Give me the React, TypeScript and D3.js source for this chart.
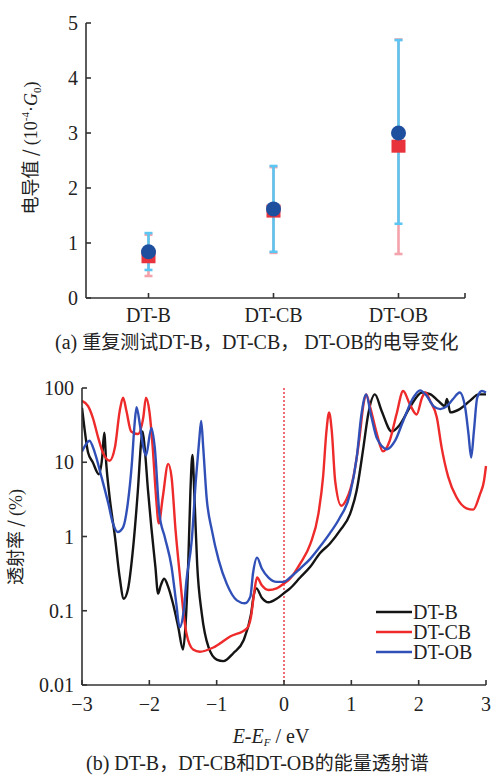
import React from 'react';
import * as d3 from 'd3';

// (a) repeated conductance measurements
const categories = ['DT-B', 'DT-CB', 'DT-OB'];
const blueMean = [0.84, 1.62, 3.0];
const blueLow = [0.51, 0.84, 1.35];
const blueHigh = [1.18, 2.4, 4.69];
const redMean = [0.75, 1.58, 2.76];
const redLow = [0.4, 0.82, 0.8];
const redHigh = [1.15, 2.38, 4.7];
const condTicks = [0, 1, 2, 3, 4, 5];

// (b) transmission spectra, energy (eV) and transmission (%)
const dtbE = [-3.0, -2.97, -2.91, -2.84, -2.75, -2.7, -2.67, -2.64, -2.59, -2.51, -2.44, -2.38, -2.32, -2.24, -2.17, -2.12, -2.1, -2.07, -2.02, -1.97, -1.91, -1.87, -1.83, -1.78, -1.72, -1.65, -1.57, -1.5, -1.46, -1.42, -1.39, -1.36, -1.33, -1.29, -1.22, -1.12, -1.0, -0.9, -0.75, -0.6, -0.49, -0.445, -0.41, -0.33, -0.23, -0.11, -0.01, 0.09, 0.24, 0.39, 0.53, 0.68, 0.83, 0.98, 1.08, 1.18, 1.25, 1.35, 1.45, 1.6, 1.72, 1.87, 2.05, 2.17, 2.29, 2.39, 2.42, 2.47, 2.61, 2.76, 2.89, 3.0];
const dtbT = [54, 32, 13.5, 10, 6.9, 11.6, 25, 9.6, 3.4, 0.98, 0.28, 0.145, 0.19, 0.72, 4.2, 19.5, 26, 16, 4.2, 1.33, 0.39, 0.17, 0.22, 0.27, 0.21, 0.126, 0.06, 0.03, 0.07, 0.5, 4, 12.5, 3.4, 0.43, 0.09, 0.032, 0.022, 0.021, 0.027, 0.04, 0.09, 0.17, 0.2, 0.15, 0.13, 0.145, 0.17, 0.2, 0.28, 0.39, 0.59, 0.8, 1.2, 2.0, 4.2, 16, 44, 82, 49, 26, 32, 55, 87, 83, 67, 57, 71, 47, 52, 67, 82, 82];

const dtcbE = [-3.0, -2.91, -2.84, -2.76, -2.69, -2.59, -2.51, -2.44, -2.39, -2.34, -2.27, -2.17, -2.09, -2.05, -2.0, -1.95, -1.9, -1.86, -1.8, -1.72, -1.67, -1.61, -1.55, -1.49, -1.45, -1.35, -1.25, -1.05, -0.8, -0.55, -0.49, -0.445, -0.4, -0.33, -0.23, -0.11, -0.01, 0.09, 0.24, 0.39, 0.51, 0.58, 0.63, 0.67, 0.71, 0.76, 0.85, 0.93, 1.03, 1.12, 1.18, 1.22, 1.28, 1.38, 1.47, 1.57, 1.67, 1.77, 1.87, 1.97, 2.05, 2.1, 2.17, 2.27, 2.34, 2.44, 2.56, 2.71, 2.81, 2.91, 2.97, 3.0];
const dtcbT = [67, 57, 40, 21.5, 13.5, 10.5, 16, 49, 74, 49, 26, 24, 40, 74, 49, 16, 3.4, 1.5, 3.4, 9.5, 6.3, 1.2, 0.32, 0.09, 0.05, 0.03, 0.028, 0.032, 0.045, 0.058, 0.083, 0.17, 0.28, 0.22, 0.19, 0.2, 0.23, 0.27, 0.43, 0.79, 2.0, 6.3, 26, 47, 26, 5.6, 2.6, 3.2, 6.3, 21, 60, 82, 55, 24, 14, 19.5, 44, 91, 60, 44, 74, 87, 67, 40, 16, 6.3, 3.4, 2.4, 2.3, 3.7, 5.6, 8.9];

const dtobE = [-3.0, -2.94, -2.89, -2.81, -2.71, -2.61, -2.54, -2.47, -2.39, -2.32, -2.26, -2.22, -2.19, -2.14, -2.09, -2.05, -1.97, -1.92, -1.85, -1.77, -1.67, -1.6, -1.55, -1.49, -1.45, -1.37, -1.31, -1.26, -1.23, -1.2, -1.15, -1.07, -0.97, -0.85, -0.7, -0.58, -0.5, -0.46, -0.4, -0.33, -0.23, -0.11, -0.01, 0.09, 0.24, 0.39, 0.53, 0.68, 0.83, 0.98, 1.08, 1.15, 1.22, 1.29, 1.38, 1.53, 1.65, 1.77, 1.92, 2.02, 2.12, 2.22, 2.32, 2.42, 2.51, 2.61, 2.69, 2.74, 2.78, 2.82, 2.87, 2.94, 3.0];
const dtobT = [14, 17.5, 19.5, 13.5, 6.3, 2.8, 1.5, 1.15, 1.33, 2.8, 9.5, 32, 55, 32, 16, 12.3, 29, 16, 2.0, 0.98, 0.39, 0.126, 0.06, 0.1, 0.25, 0.89, 5.6, 19.5, 36, 16, 3.4, 1.2, 0.48, 0.23, 0.138, 0.126, 0.155, 0.32, 0.52, 0.37, 0.28, 0.245, 0.245, 0.28, 0.37, 0.5, 0.72, 1.1, 1.8, 3.7, 11.6, 44, 82, 44, 21, 15, 19.5, 36, 74, 93, 78, 57, 52, 57, 71, 87, 55, 24, 11.6, 26, 74, 91, 87];

const energyTicks = [-3, -2, -1, 0, 1, 2, 3];
const transTicks = [0.01, 0.1, 1, 10, 100];
const transLabels = ['0.01', '0.1', '1', '10', '100'];

const seriesNames = ['DT-B', 'DT-CB', 'DT-OB'];
const seriesColors = ['#141414', '#ee2a2a', '#3050b8'];

const serif = "'Liberation Serif', Tinos, 'Times New Roman', Times, 'DejaVu Serif', serif";
const cjk = "'Noto Sans CJK SC', sans-serif";
const axisColor = '#333';

export default function App() {
  // top chart scales
  const x1 = d3.scalePoint<string>().domain(categories).range([86, 461]).padding(0.5);
  const y1 = d3.scaleLinear().domain([0, 5]).range([298, 23]);

  // bottom chart scales
  const x2 = d3.scaleLinear().domain([-3, 3]).range([82, 486]);
  const y2 = d3.scaleLog().domain([0.01, 100]).range([685, 388]);

  const line = d3.line<[number, number]>()
    .x(d => x2(d[0]))
    .y(d => y2(d[1]))
    .curve(d3.curveMonotoneX);

  const series = [
    dtbE.map((e, i) => [e, dtbT[i]] as [number, number]),
    dtcbE.map((e, i) => [e, dtcbT[i]] as [number, number]),
    dtobE.map((e, i) => [e, dtobT[i]] as [number, number]),
  ];
  const fmt = d3.format('d');
  const ts = { fontFamily: serif };
  const cs = { fontFamily: cjk, fontSize: 19 };

  const errBar = (c: string, lo: number, hi: number, color: string, key: string) => {
    const cx = x1(c)!;
    return (
      <g key={key} stroke={color} strokeWidth={2.6}>
        <line x1={cx} x2={cx} y1={y1(lo)} y2={y1(hi)} />
        <line x1={cx - 4} x2={cx + 4} y1={y1(lo)} y2={y1(lo)} />
        <line x1={cx - 4} x2={cx + 4} y1={y1(hi)} y2={y1(hi)} />
      </g>
    );
  };

  return (
    <svg width={492} height={775} style={{ position: 'absolute', left: 0, top: 0, background: '#fff' }}>
      {/* ---------- (a) ---------- */}
      <g>
        {categories.map((c, i) => errBar(c, redLow[i], redHigh[i], '#f4a2ab', 'r' + i))}
        {categories.map((c, i) => errBar(c, blueLow[i], blueHigh[i], '#5cc6f2', 'b' + i))}
        {categories.map((c, i) => (
          <rect key={'sq' + i} x={x1(c)! - 7} y={y1(redMean[i]) - 6.5} width={14} height={13} fill="#e8323c" />
        ))}
        {categories.map((c, i) => (
          <circle key={'ci' + i} cx={x1(c)!} cy={y1(blueMean[i])} r={7.5} fill="#1e4f9e" />
        ))}
        {/* axes */}
        <line x1={86} x2={86} y1={y1(5)} y2={y1(0)} stroke={axisColor} strokeWidth={1.6} />
        <line x1={86} x2={465} y1={y1(0)} y2={y1(0)} stroke={axisColor} strokeWidth={1.6} />
        {condTicks.map(t => (
          <g key={'yt' + t}>
            <line x1={86} x2={91} y1={y1(t)} y2={y1(t)} stroke={axisColor} strokeWidth={1.6} />
            <text x={78} y={y1(t)} dy="0.35em" textAnchor="end" fontSize={20} fill="#222" style={ts}>{t}</text>
          </g>
        ))}
        {categories.map(c => (
          <g key={'xt' + c}>
            <line x1={x1(c)!} x2={x1(c)!} y1={y1(0)} y2={y1(0) - 5} stroke={axisColor} strokeWidth={1.6} />
            <text x={x1(c)!} y={315} dy="0.35em" textAnchor="middle" fontSize={20} fill="#222" style={ts}>{c}</text>
          </g>
        ))}
        <line x1={465} x2={465} y1={y1(0)} y2={y1(0) - 5} stroke={axisColor} strokeWidth={1.6} />
        <text transform="translate(37,148) rotate(-90)" textAnchor="middle" fontSize={18} fill="#222" style={ts}>
          <tspan style={{ fontFamily: cjk }}>电导值 / </tspan>
          <tspan>(10</tspan>
          <tspan fontSize={11} dy={-8}>-4</tspan>
          <tspan dy={8}>·</tspan>
          <tspan fontStyle="italic">G</tspan>
          <tspan fontSize={11} dy={4}>0</tspan>
          <tspan dy={-4}>)</tspan>
        </text>
        <text x={55} y={342} dy="0.35em" textAnchor="start" fontSize={20} fill="#222" style={ts}>
          <tspan>(a) </tspan>
          <tspan style={cs}>重复测试</tspan>
          <tspan>DT-B</tspan>
          <tspan style={cs}>，</tspan>
          <tspan>DT-CB</tspan>
          <tspan style={cs}>，</tspan>
          <tspan> DT-OB</tspan>
          <tspan style={cs}>的电导变化</tspan>
        </text>
      </g>

      {/* ---------- (b) ---------- */}
      <defs>
        <clipPath id="plotb">
          <rect x={82} y={386} width={406} height={300} />
        </clipPath>
      </defs>
      <g>
        <line x1={x2(0)} x2={x2(0)} y1={y2(100)} y2={y2(0.01)} stroke="#f06a78" strokeWidth={2}
          strokeDasharray="2,2" />
        <g clipPath="url(#plotb)">
          {series.map((s, i) => (
            <path key={'s' + i} d={line(s)!} fill="none" stroke={seriesColors[i]} strokeWidth={2.4}
              strokeLinejoin="round" />
          ))}
        </g>
        {/* axes */}
        <line x1={82} x2={82} y1={y2(100)} y2={y2(0.01)} stroke={axisColor} strokeWidth={1.6} />
        <line x1={82} x2={486} y1={y2(0.01)} y2={y2(0.01)} stroke={axisColor} strokeWidth={1.6} />
        {transTicks.map((t, i) => (
          <g key={'yt2' + i}>
            <line x1={82} x2={87} y1={y2(t)} y2={y2(t)} stroke={axisColor} strokeWidth={1.6} />
            <text x={74} y={y2(t)} dy="0.35em" textAnchor="end" fontSize={20} fill="#222" style={ts}>{transLabels[i]}</text>
          </g>
        ))}
        {energyTicks.map(t => (
          <g key={'xt2' + t}>
            <line x1={x2(t)} x2={x2(t)} y1={y2(0.01)} y2={y2(0.01) - 5} stroke={axisColor} strokeWidth={1.6} />
            <text x={x2(t)} y={704} dy="0.35em" textAnchor="middle" fontSize={20} fill="#222" style={ts}>
              {t < 0 ? '\u2212' + fmt(-t) : fmt(t)}
            </text>
          </g>
        ))}
        <text transform="translate(22,537) rotate(-90)" textAnchor="middle" fontSize={18} fill="#222" style={ts}>
          <tspan style={{ fontFamily: cjk }}>透射率 / </tspan>
          <tspan>(%)</tspan>
        </text>
        <text x={271} y={735.5} dy="0.35em" textAnchor="middle" fontSize={20} fill="#222" style={ts}>
          <tspan fontStyle="italic">E</tspan>
          <tspan>-</tspan>
          <tspan fontStyle="italic">E</tspan>
          <tspan fontStyle="italic" fontSize={11} dy={3}>F</tspan>
          <tspan dy={-3}> / eV</tspan>
        </text>
        {/* legend */}
        {seriesNames.map((n, i) => (
          <g key={'lg' + n} transform={`translate(376,${612 + i * 20})`}>
            <line x1={0} x2={36} y1={0} y2={0} stroke={seriesColors[i]} strokeWidth={2.6} />
            <text x={37} y={0} dy="0.35em" fontSize={20} fill="#222" style={ts}>{n}</text>
          </g>
        ))}
        <text x={86} y={763} dy="0.35em" textAnchor="start" fontSize={20} fill="#222" style={ts}>
          <tspan>(b) DT-B</tspan>
          <tspan style={cs}>，</tspan>
          <tspan>DT-CB</tspan>
          <tspan style={cs}>和</tspan>
          <tspan>DT-OB</tspan>
          <tspan style={cs}>的能量透射谱</tspan>
        </text>
      </g>
    </svg>
  );
}
